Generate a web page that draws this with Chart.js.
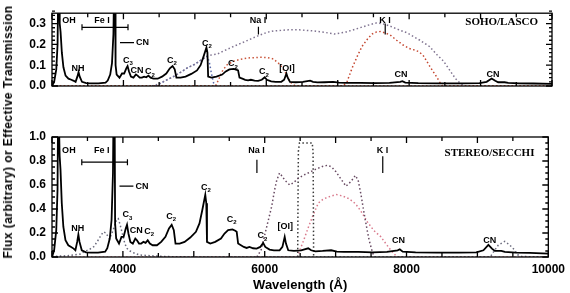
<!DOCTYPE html>
<html>
<head>
<meta charset="utf-8">
<script src="https://cdn.jsdelivr.net/npm/chart.js@4.4.0/dist/chart.umd.min.js"></script>
<style>
  html, body { margin: 0; padding: 0; background: #fff; }
  #wrap { position: relative; width: 570px; height: 293px; overflow: hidden; }
  #wrap canvas { position: absolute; left: 0; top: 0; }
  #ytitle {
    position: absolute; left: 8px; top: 132px;
    transform: translate(-50%, -50%) rotate(-90deg);
    font: bold 12px "Liberation Sans", Arial, sans-serif;
    letter-spacing: 0.45px;
    white-space: nowrap; color: #000;
  }
</style>
</head>
<body>
<div id="wrap">
  <canvas id="topChart" width="570" height="293"></canvas>
  <canvas id="bottomChart" width="570" height="293"></canvas>
  <div id="ytitle">Flux (arbitrary) or Effective Transmission</div>
</div>
<script>
// comet spectrum (flux, arbitrary units)
const specWave = [3000, 3030, 3060, 3078, 3088, 3098, 3108, 3120, 3138, 3160, 3190, 3230, 3270, 3305, 3330, 3355, 3372, 3388, 3420, 3480,
  3550, 3650, 3750, 3780, 3815, 3840, 3860, 3870, 3882, 3890, 3905, 3945, 3980, 4010, 4040, 4058, 4078, 4105, 4140, 4175,
  4198, 4228, 4258, 4290, 4320, 4350, 4380, 4420, 4480, 4540, 4600, 4650, 4688, 4718, 4742, 4800, 4870, 4950, 5030, 5080,
  5120, 5162, 5176, 5186, 5232, 5302, 5383, 5433, 5484, 5545, 5585, 5605, 5625, 5665, 5705, 5745, 5785, 5836, 5886, 5937,
  5978, 6008, 6068, 6130, 6210, 6250, 6282, 6300, 6332, 6412, 6513, 6614, 6655, 6716, 6816, 6937, 7018, 7118, 7320, 7522,
  7724, 7875, 7905, 7946, 8128, 8430, 8732, 8985, 9085, 9155, 9205, 9246, 9337, 9387, 9538, 9740, 10000];
const specFlux = [0.0, 0.02, 0.08, 0.2, 0.5, 0.5, 0.3, 0.26, 0.16, 0.09, 0.05, 0.035, 0.03, 0.025, 0.02, 0.045, 0.067, 0.045, 0.02, 0.014,
  0.013, 0.013, 0.016, 0.026, 0.055, 0.11, 0.25, 0.5, 0.5, 0.1, 0.055, 0.04, 0.06, 0.06, 0.085, 0.096, 0.07, 0.045, 0.04, 0.055,
  0.05, 0.04, 0.04, 0.045, 0.042, 0.05, 0.04, 0.035, 0.035, 0.045, 0.06, 0.085, 0.096, 0.08, 0.04, 0.04, 0.045, 0.058, 0.075, 0.1,
  0.14, 0.185, 0.16, 0.045, 0.04, 0.045, 0.055, 0.07, 0.08, 0.082, 0.078, 0.075, 0.04, 0.035, 0.03, 0.027, 0.03, 0.026, 0.025, 0.03,
  0.042, 0.03, 0.022, 0.02, 0.02, 0.03, 0.06, 0.04, 0.02, 0.018, 0.02, 0.026, 0.02, 0.017, 0.018, 0.02, 0.016, 0.015, 0.015, 0.014,
  0.015, 0.02, 0.023, 0.016, 0.014, 0.013, 0.013, 0.014, 0.02, 0.036, 0.025, 0.018, 0.018, 0.015, 0.013, 0.012, 0.01];
// the lower panel shows the same spectrum on a taller scale
const lowerScale = 2.8;

// SOHO/LASCO filter transmissions
const clearWave = [4400, 4500, 4600, 4700, 4800, 4900, 5002, 5100, 5180, 5240, 5310, 5400, 5540, 5710, 5875, 6010, 6110, 6310, 6460, 6655,
  6815, 6955, 7120, 7265, 7420, 7540, 7620, 7720, 7820, 7975, 8150, 8285, 8390, 8480, 8570, 8650, 8710, 8780];
const clearTrans = [0, 0.01, 0.028, 0.045, 0.066, 0.088, 0.105, 0.128, 0.145, 0.15, 0.153, 0.168, 0.19, 0.215, 0.24, 0.258, 0.265, 0.27, 0.27, 0.265,
  0.258, 0.25, 0.26, 0.275, 0.292, 0.303, 0.3, 0.29, 0.275, 0.255, 0.22, 0.19, 0.15, 0.12, 0.075, 0.035, 0.015, 0];
const blueWave = [4450, 4600, 4700, 4800, 4900, 5002, 5100, 5170, 5200, 5232, 5262, 5292];
const blueTrans = [0, 0.028, 0.045, 0.066, 0.088, 0.105, 0.128, 0.142, 0.12, 0.06, 0.015, 0];
const orangeWave = [3000, 5290, 5332, 5383, 5443, 5535, 5630, 5756, 5907, 6008, 6100, 6190, 6260, 6310, 6360, 6410, 10000];
const orangeTrans = [0, 0, 0.03, 0.07, 0.1, 0.118, 0.128, 0.135, 0.138, 0.137, 0.13, 0.104, 0.07, 0.035, 0.01, 0, 0];
const deepRedWave = [3000, 7070, 7130, 7200, 7270, 7340, 7415, 7480, 7545, 7595, 7665, 7735, 7825, 7915, 8005, 8085, 8135, 8195, 8245, 8290,
  8335, 8383, 8425, 8465, 10000];
const deepRedTrans = [0, 0, 0.02, 0.085, 0.14, 0.19, 0.225, 0.25, 0.26, 0.262, 0.255, 0.245, 0.22, 0.197, 0.18, 0.172, 0.165, 0.148, 0.12, 0.094,
  0.07, 0.045, 0.02, 0, 0];

// STEREO/SECCHI filter transmissions
const secAWave = [3000, 3200, 3400, 3450, 3520, 3590, 3640, 3680, 3725, 3760, 3810, 3860, 3910, 3935, 3960, 3990, 4028, 4060, 4100, 4150,
  4236, 4400, 4600, 5000, 9180, 9225, 9295, 9385, 9455, 9525, 9565, 9620, 10000];
const secATrans = [0.005, 0.01, 0.025, 0.044, 0.06, 0.086, 0.13, 0.17, 0.21, 0.2, 0.15, 0.22, 0.31, 0.32, 0.27, 0.2, 0.11, 0.07, 0.05, 0.035,
  0.017, 0.01, 0.004, 0, 0, 0.04, 0.1, 0.13, 0.1, 0.058, 0.02, 0.004, 0];
const secBroadWave = [5890, 5950, 5982, 6040, 6098, 6140, 6170, 6210, 6250, 6283, 6353, 6410, 6460, 6542, 6612, 6715, 6815, 6890, 6945, 7005,
  7075, 7147, 7218, 7278, 7318, 7358, 7403, 7440, 7473, 7510, 7543];
const secBroadTrans = [0, 0.06, 0.14, 0.28, 0.42, 0.56, 0.64, 0.7, 0.67, 0.64, 0.6, 0.62, 0.65, 0.68, 0.7, 0.73, 0.755, 0.765, 0.75, 0.71,
  0.65, 0.59, 0.63, 0.68, 0.64, 0.52, 0.36, 0.24, 0.14, 0.06, 0];
const secBoxWave = [6465, 6470, 6475, 6490, 6670, 6682, 6686, 6690];
const secBoxTrans = [0, 0.5, 0.88, 0.95, 0.95, 0.88, 0.5, 0];
const secRedWave = [3000, 6470, 6478, 6550, 6617, 6690, 6757, 6820, 6895, 7010, 7090, 7173, 7250, 7312, 7380, 7451, 7540, 7636, 7710, 7775,
  7820, 7868, 10000];
const secRedTrans = [0, 0, 0.03, 0.14, 0.25, 0.36, 0.45, 0.48, 0.5, 0.52, 0.51, 0.49, 0.46, 0.42, 0.36, 0.29, 0.22, 0.17, 0.11, 0.06,
  0.03, 0, 0];

// axis ticks
const xTickValues = [4000, 6000, 8000, 10000];
const topYTicks = [0, 0.1, 0.2, 0.3];
const bottomYTicks = [0, 0.2, 0.4, 0.6, 0.8, 1.0];

// line identifications: wavelength, height in upper panel, height in lower panel
const lineLabels = [
  { text: 'OH', w: 3238, top: 0.315, bot: 0.89 },
  { text: 'Fe I', w: 3700, top: 0.315, bot: 0.89 },
  { text: 'NH', w: 3364, top: 0.085, bot: 0.24 },
  { text: 'C_3', w: 4064, top: 0.124, bot: 0.35 },
  { text: 'CN', w: 4190, top: 0.076, bot: 0.22 },
  { text: 'C_2', w: 4372, top: 0.068, bot: 0.21 },
  { text: 'C_2', w: 4680, top: 0.124, bot: 0.34 },
  { text: 'C_2', w: 5170, top: 0.203, bot: 0.58 },
  { text: 'C_2', w: 5534, top: 0.106, bot: 0.31 },
  { text: 'C_2', w: 5968, top: 0.068, bot: 0.175 },
  { text: '[OI]', w: 6290, top: 0.085, bot: 0.25 },
  { text: 'Na I', w: 5884, top: 0.315, bot: 0.89 },
  { text: 'K I', w: 7662, top: 0.315, bot: 0.89 },
  { text: 'CN', w: 7886, top: 0.053, bot: 0.14 },
  { text: 'CN', w: 9174, top: 0.053, bot: 0.14 }
];

const pts = (xs, ys, k = 1) => xs.map((x, i) => ({ x: x, y: ys[i] * k }));

function spectrumSet(k) {
  return { data: pts(specWave, specFlux, k), borderColor: '#000', borderWidth: 1.8,
    pointRadius: 0, tension: 0, fill: false };
}
function dotted(xs, ys, color) {
  return { data: pts(xs, ys), borderColor: color, borderWidth: 1.5, borderDash: [1.5, 2.4],
    pointRadius: 0, tension: 0, fill: false };
}

function drawLabel(ctx, text, x, y, align) {
  const big = 'bold 9px "Liberation Sans", Arial, sans-serif';
  const small = 'bold 6px "Liberation Sans", Arial, sans-serif';
  ctx.textBaseline = 'middle';
  if (text.indexOf('_') < 0) {
    ctx.font = big;
    ctx.textAlign = align || 'center';
    ctx.fillText(text, x, y);
    return;
  }
  const [base, sub] = text.split('_');
  ctx.font = big;
  const bw = ctx.measureText(base).width;
  ctx.font = small;
  const sw = ctx.measureText(sub).width;
  const x0 = x - (bw + sw) / 2;
  ctx.textAlign = 'left';
  ctx.font = big;
  ctx.fillText(base, x0, y);
  ctx.font = small;
  ctx.fillText(sub, x0 + bw, y + 3);
}

const annotate = {
  id: 'annotate',
  afterDatasetsDraw(chart, args, opts) {
    const { ctx, chartArea: a, scales: { x, y } } = chart;
    const key = opts.key;
    ctx.save();
    ctx.fillStyle = '#000';
    ctx.strokeStyle = '#000';

    // frame and inward ticks
    ctx.lineWidth = 1.3;
    ctx.strokeRect(a.left, a.top, a.right - a.left, a.bottom - a.top);
    ctx.beginPath();
    for (let w = 3000; w <= 10000; w += 500) {
      const px = x.getPixelForValue(w);
      const len = w % 1000 === 0 ? 6 : 4;
      ctx.moveTo(px, a.bottom); ctx.lineTo(px, a.bottom - len);
      ctx.moveTo(px, a.top); ctx.lineTo(px, a.top + len);
    }
    const n = Math.round(y.max / opts.minor);
    for (let i = 0; i <= n; i++) {
      const v = i * opts.minor;
      const py = y.getPixelForValue(v);
      const r = v / opts.major;
      const len = Math.abs(r - Math.round(r)) < 1e-6 ? 6 : 3;
      ctx.moveTo(a.left, py); ctx.lineTo(a.left + len, py);
      ctx.moveTo(a.right, py); ctx.lineTo(a.right - len, py);
    }
    ctx.stroke();

    // line identifications
    lineLabels.forEach(l => drawLabel(ctx, l.text, x.getPixelForValue(l.w), y.getPixelForValue(l[key])));

    ctx.lineWidth = 1.2;
    ctx.beginPath();
    // Fe I range bar
    const fy = y.getPixelForValue(opts.feBar);
    const f1 = x.getPixelForValue(3420), f2 = x.getPixelForValue(4064);
    ctx.moveTo(f1, fy); ctx.lineTo(f2, fy);
    ctx.moveTo(f1, fy - 3); ctx.lineTo(f1, fy + 3);
    ctx.moveTo(f2, fy - 3); ctx.lineTo(f2, fy + 3);
    // CN 3883 pointer
    const cy = y.getPixelForValue(opts.cnLine);
    ctx.moveTo(x.getPixelForValue(3952), cy); ctx.lineTo(x.getPixelForValue(4148), cy);
    // Na I and K I markers
    ctx.moveTo(x.getPixelForValue(5890), y.getPixelForValue(opts.na[0]));
    ctx.lineTo(x.getPixelForValue(5890), y.getPixelForValue(opts.na[1]));
    ctx.moveTo(x.getPixelForValue(7665), y.getPixelForValue(opts.k[0]));
    ctx.lineTo(x.getPixelForValue(7665), y.getPixelForValue(opts.k[1]));
    ctx.stroke();
    drawLabel(ctx, 'CN', x.getPixelForValue(4176), cy, 'left');

    // instrument name
    ctx.font = 'bold 11px "Liberation Serif", "Times New Roman", serif';
    ctx.textAlign = 'right';
    ctx.textBaseline = 'middle';
    ctx.fillText(opts.panel, x.getPixelForValue(9804), y.getPixelForValue(opts.panelY));
    ctx.restore();
  }
};

const tickFont = { family: '"Liberation Sans", Arial, sans-serif', size: 12, weight: 'bold' };

function makeChart(id, datasets, yMax, yTicks, pad, showX, plugOpts) {
  return new Chart(document.getElementById(id), {
    type: 'line',
    data: { datasets: datasets },
    plugins: [annotate],
    options: {
      responsive: false,
      animation: false,
      events: [],
      layout: { padding: pad },
      plugins: { legend: { display: false }, tooltip: { enabled: false }, annotate: plugOpts },
      scales: {
        x: {
          type: 'linear', min: 3000, max: 10000, display: showX,
          grid: { display: false, drawTicks: false }, border: { display: false },
          afterBuildTicks: s => { s.ticks = xTickValues.map(v => ({ value: v })); },
          afterFit: s => { s.height = 36; },
          ticks: { color: '#000', font: tickFont, padding: 5, maxRotation: 0, autoSkip: false,
            callback: v => String(v) },
          title: { display: true, text: 'Wavelength (Å)', color: '#000',
            font: { family: '"Liberation Sans", Arial, sans-serif', size: 13, weight: 'bold' },
            padding: { top: 2, bottom: 0 } }
        },
        y: {
          min: 0, max: yMax,
          grid: { display: false, drawTicks: false }, border: { display: false },
          afterFit: s => { s.width = 52; },
          afterBuildTicks: s => { s.ticks = yTicks.map(v => ({ value: v })); },
          ticks: { color: '#000', font: tickFont, padding: 6, callback: v => v.toFixed(1) }
        }
      }
    }
  });
}

makeChart('topChart', [
  spectrumSet(1),
  dotted(clearWave, clearTrans, '#7f7390'),
  dotted(blueWave, blueTrans, '#5a6aaa'),
  dotted(orangeWave, orangeTrans, '#c9553a'),
  dotted(deepRedWave, deepRedTrans, '#c4452e')
], 0.35, topYTicks, { left: 0, right: 18, top: 3, bottom: 171 }, false,
  { key: 'top', minor: 0.02, major: 0.1, feBar: 0.282, cnLine: 0.209, na: [0.285, 0.247], k: [0.30, 0.247],
    panel: 'SOHO/LASCO', panelY: 0.306 });

makeChart('bottomChart', [
  spectrumSet(lowerScale),
  dotted(secAWave, secATrans, '#6a6a7c'),
  dotted(secBroadWave, secBroadTrans, '#684a62'),
  dotted(secBoxWave, secBoxTrans, '#3a3a3a'),
  dotted(secRedWave, secRedTrans, '#d97a8c')
], 1.0, bottomYTicks, { left: 0, right: 18, top: 137, bottom: 0 }, true,
  { key: 'bot', minor: 0.05, major: 0.2, feBar: 0.79, cnLine: 0.59, na: [0.81, 0.70], k: [0.84, 0.70],
    panel: 'STEREO/SECCHI', panelY: 0.867 });
</script>
</body>
</html>
